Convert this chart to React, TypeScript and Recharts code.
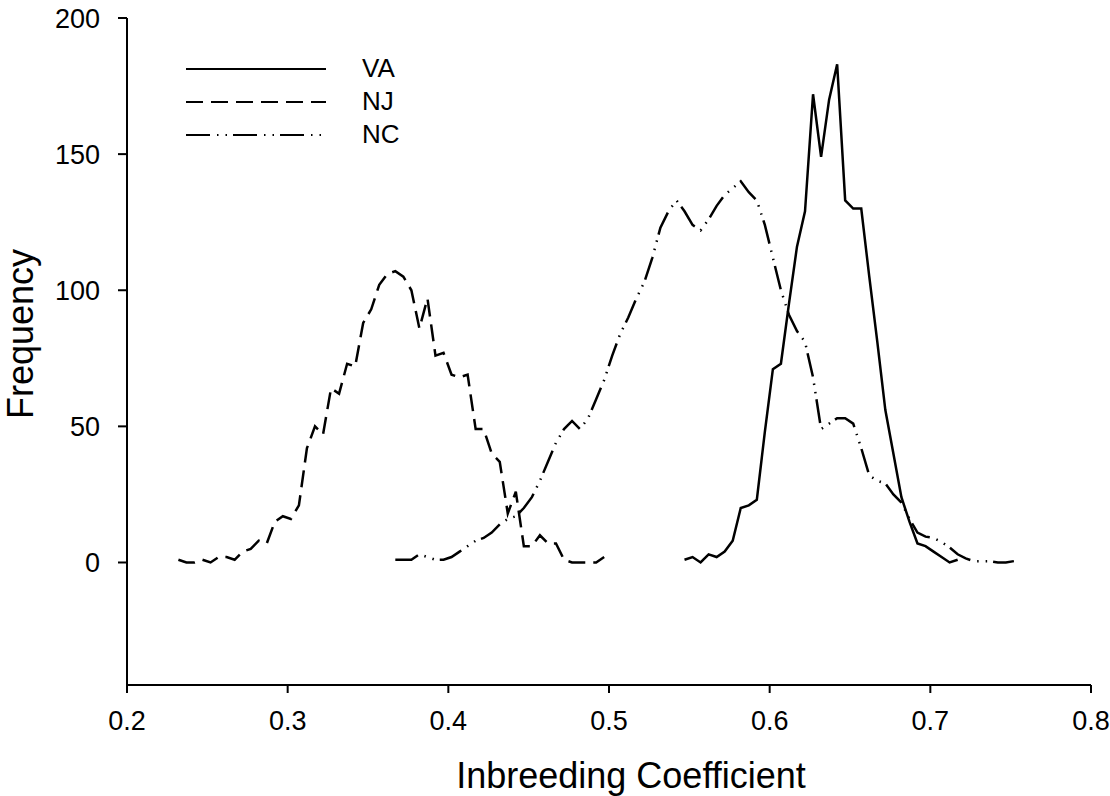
import React from 'react'
import { LineChart, Line, XAxis, YAxis, Legend } from 'recharts'

const FONT = '"Liberation Sans", Arial, Helvetica, sans-serif'

// bin centres (inbreeding coefficient) and counts
const njCoef = [
  0.232, 0.237, 0.242, 0.247, 0.252, 0.257, 0.262, 0.267, 0.272, 0.277,
  0.282, 0.287, 0.292, 0.297, 0.302, 0.307, 0.312, 0.317, 0.322, 0.327,
  0.332, 0.337, 0.342, 0.347, 0.352, 0.357, 0.362, 0.367, 0.372, 0.377,
  0.382, 0.387, 0.392, 0.397, 0.402, 0.407, 0.412, 0.417, 0.422, 0.427,
  0.432, 0.437, 0.442, 0.447, 0.452, 0.457, 0.462, 0.467, 0.472, 0.477,
  0.482, 0.487, 0.492, 0.497,
]
const njFreq = [
  1, 0, 0, 1, 0, 2, 2, 1, 4, 5,
  8, 7, 15, 17, 16, 21, 42, 50, 47, 64,
  62, 73, 72, 88, 93, 102, 106, 107, 105, 100,
  86, 97, 76, 77, 69, 68, 69, 49, 49, 40,
  37, 18, 26, 6, 6, 10, 7, 7, 1, 0,
  0, 0, 0, 2,
]

const ncCoef = [
  0.367, 0.372, 0.377, 0.382, 0.387, 0.392, 0.397, 0.402, 0.407, 0.412,
  0.417, 0.422, 0.427, 0.432, 0.437, 0.442, 0.447, 0.452, 0.457, 0.462,
  0.467, 0.472, 0.477, 0.482, 0.487, 0.492, 0.497, 0.502, 0.507, 0.512,
  0.517, 0.522, 0.527, 0.532, 0.537, 0.542, 0.547, 0.552, 0.557, 0.562,
  0.567, 0.572, 0.577, 0.582, 0.587, 0.592, 0.597, 0.602, 0.607, 0.612,
  0.617, 0.622, 0.627, 0.632, 0.637, 0.642, 0.647, 0.652, 0.657, 0.662,
  0.667, 0.672, 0.677, 0.682, 0.687, 0.692, 0.697, 0.702, 0.707, 0.712,
  0.717, 0.722, 0.727, 0.732, 0.737, 0.742, 0.747, 0.752,
]
const ncFreq = [
  1, 1, 1, 3, 2, 1, 1, 2, 4, 6,
  8, 9, 11, 14, 16, 17, 20, 24, 30, 37,
  44, 49, 52, 49, 53, 60, 67, 76, 84, 90,
  97, 103, 112, 123, 129, 133, 129, 124, 122, 126,
  131, 135, 137.5, 140, 136, 133, 124, 112, 100, 91,
  85, 81, 68, 49, 51, 53, 53, 51, 42, 32,
  30, 29, 25, 22, 16, 11, 9.5, 9, 7.5, 5.5,
  3, 1.5, 0.5, 0.5, 0.5, 0, 0, 0.5,
]

const vaCoef = [
  0.547, 0.552, 0.557, 0.562, 0.567, 0.572, 0.577, 0.582, 0.587, 0.592,
  0.597, 0.602, 0.607, 0.612, 0.617, 0.622, 0.627, 0.632, 0.637, 0.642,
  0.647, 0.652, 0.657, 0.662, 0.667, 0.672, 0.677, 0.682, 0.687, 0.692,
  0.697, 0.702, 0.707, 0.712, 0.717,
]
const vaFreq = [
  1, 2, 0, 3, 2, 4, 8, 20, 21, 23,
  48, 71, 73, 95, 116, 129, 172, 149, 170, 183,
  133, 130, 130, 105, 81, 56, 40, 24, 15, 7,
  6, 4, 2, 0, 1,
]

const xTicks = [0.2, 0.3, 0.4, 0.5, 0.6, 0.7, 0.8]
const yTicks = [0, 50, 100, 150, 200]

const toPoints = (xs: number[], ys: number[]) => xs.map((x, i) => ({ x, y: ys[i] }))

const series = [
  { name: 'VA', dash: undefined, data: toPoints(vaCoef, vaFreq) },
  { name: 'NJ', dash: '17 8', data: toPoints(njCoef, njFreq) },
  { name: 'NC', dash: '24 7 1.5 7 1.5 6', data: toPoints(ncCoef, ncFreq) },
]

const KeyBox = () => (
  <div style={{ fontFamily: FONT }}>
    {series.map(s => (
      <div key={s.name} style={{ display: 'flex', alignItems: 'center', height: 33 }}>
        <svg width={140} height={6}>
          <line x1={0} y1={3} x2={140} y2={3} stroke="#000" strokeWidth={2} strokeDasharray={s.dash} />
        </svg>
        <span style={{ marginLeft: 36, fontSize: 26, color: '#000', lineHeight: '33px' }}>{s.name}</span>
      </div>
    ))}
  </div>
)

const XTitle = () => (
  <text x={631} y={788} textAnchor="middle" fontSize={36} fontFamily={FONT} fill="#000">
    Inbreeding Coefficient
  </text>
)

const YTitle = () => (
  <text transform="translate(33, 334) rotate(-90)" textAnchor="middle" fontSize={36} fontFamily={FONT} fill="#000">
    Frequency
  </text>
)

export default function App() {
  const tickStyle = { fontSize: 27, fill: '#000', fontFamily: FONT }
  return (
    <div style={{ position: 'absolute', left: 0, top: 0, background: '#fff' }}>
      <LineChart width={1110} height={796} margin={{ top: 18, right: 19, bottom: 0, left: 0 }}>
        <XAxis
          type="number"
          dataKey="x"
          domain={[0.2, 0.8]}
          ticks={xTicks}
          tickFormatter={v => Number(v).toFixed(1)}
          height={111}
          tickSize={8}
          tickMargin={18}
          tick={tickStyle}
          axisLine={{ stroke: '#000', strokeWidth: 2 }}
          tickLine={{ stroke: '#000', strokeWidth: 2 }}
          label={<XTitle />}
        />
        <YAxis
          type="number"
          domain={[-45, 200]}
          ticks={yTicks}
          width={127}
          tickSize={9}
          tickMargin={18}
          tick={tickStyle}
          axisLine={{ stroke: '#000', strokeWidth: 2 }}
          tickLine={{ stroke: '#000', strokeWidth: 2 }}
          label={<YTitle />}
        />
        <Legend
          layout="horizontal"
          align="center"
          verticalAlign="middle"
          content={() => <KeyBox />}
          wrapperStyle={{ left: 186, top: 52, width: 260 }}
        />
        {series.map(s => (
          <Line
            key={s.name}
            name={s.name}
            data={s.data}
            dataKey="y"
            type="linear"
            stroke="#000"
            strokeWidth={2.5}
            strokeDasharray={s.dash}
            dot={false}
            activeDot={false}
            isAnimationActive={false}
          />
        ))}
      </LineChart>
    </div>
  )
}
